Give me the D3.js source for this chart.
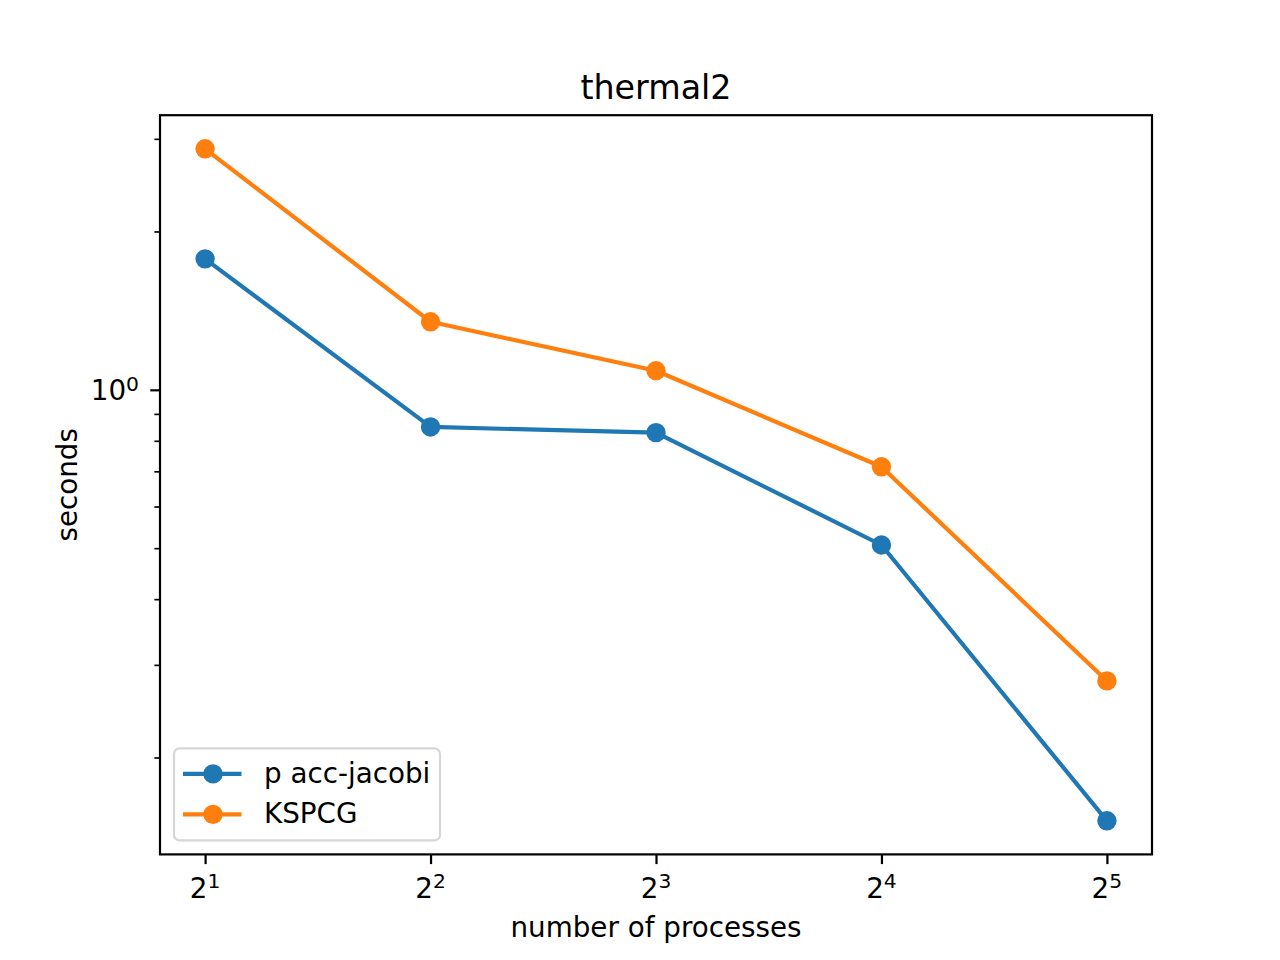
<!DOCTYPE html>
<html>
<head>
<meta charset="utf-8">
<script src="https://cdn.jsdelivr.net/npm/d3@7"></script>
<style>
  body { margin: 0; background: #fff; }
  text { font-family: "DejaVu Sans", sans-serif; fill: #000; }
</style>
</head>
<body>
<div id="chart"></div>
<script>
// values
const processes = [2, 4, 8, 16, 32];
const accJacobi = [1.774, 0.850, 0.829, 0.507, 0.1516];
const kspcg = [2.872, 1.347, 1.087, 0.714, 0.2797];
const seriesNames = ["p acc-jacobi", "KSPCG"];
const seriesColors = ["#1f77b4", "#ff7f0e"];
const xTickExp = [1, 2, 3, 4, 5];
const yMajor = [1];
const yMinor = [0.2, 0.3, 0.4, 0.5, 0.6, 0.7, 0.8, 0.9, 2, 3];

const W = 1280, H = 960;
var margin = {top: 115.2, right: 128, bottom: 105.6, left: 160};
const width = W - margin.left - margin.right;
const height = H - margin.top - margin.bottom;
const fs = 27.78; // 10pt at 200 dpi
const markR = 9.7;

var svg = d3.select("#chart").append("svg")
    .attr("width", W)
    .attr("height", H);
var g = svg.append("g")
    .attr("transform", "translate(" + margin.left + "," + margin.top + ")");

// log scales with matplotlib style 5% margins (in log space)
const lx = processes.map(d => Math.log2(d));
const xPad = (d3.max(lx) - d3.min(lx)) * 0.05;
var x = d3.scaleLog().base(2)
    .domain([Math.pow(2, d3.min(lx) - xPad), Math.pow(2, d3.max(lx) + xPad)])
    .range([0, width]);

const ly = accJacobi.concat(kspcg).map(d => Math.log10(d));
const yPad = (d3.max(ly) - d3.min(ly)) * 0.05;
var y = d3.scaleLog()
    .domain([Math.pow(10, d3.min(ly) - yPad), Math.pow(10, d3.max(ly) + yPad)])
    .range([height, 0]);

// x axis
var xAxis = g.append("g")
    .attr("transform", `translate(0, ${height})`)
    .call(d3.axisBottom(x).tickValues(xTickExp.map(e => Math.pow(2, e)))
      .tickSize(9.7).tickFormat(""));
xAxis.select(".domain").remove();
xAxis.selectAll("line").attr("stroke-width", 2.2);
xTickExp.forEach(function(e) {
  var t = g.append("text")
      .attr("x", x(Math.pow(2, e)))
      .attr("y", height + 43.5)
      .attr("text-anchor", "middle")
      .style("font-size", fs + "px");
  t.append("tspan").text("2");
  t.append("tspan").attr("dy", -9.5).style("font-size", (fs * 0.73) + "px").text(e);
});

// y axis
var yAxis = g.append("g")
    .call(d3.axisLeft(y).tickValues(yMajor).tickSize(9.7).tickFormat(""));
yAxis.select(".domain").remove();
yAxis.selectAll("line").attr("stroke-width", 2.2);
var yMin = g.append("g")
    .call(d3.axisLeft(y).tickValues(yMinor).tickSize(5.6).tickFormat(""));
yMin.select(".domain").remove();
yMin.selectAll("line").attr("stroke-width", 1.67);
yMajor.forEach(function(v) {
  var t = g.append("text")
      .attr("x", -21)
      .attr("y", y(v) + 10.5)
      .attr("text-anchor", "end")
      .style("font-size", fs + "px");
  t.append("tspan").text("10");
  t.append("tspan").attr("dy", -9.5).style("font-size", (fs * 0.73) + "px").text("0");
});

// lines + markers
const allSeries = [accJacobi, kspcg];
var line = d3.line()
    .x(function(d, i) { return x(processes[i]); })
    .y(function(d) { return y(d); });

allSeries.forEach(function(vals, k) {
  g.append("path")
      .datum(vals)
      .attr("fill", "none")
      .attr("stroke", seriesColors[k])
      .attr("stroke-width", 4.17)
      .attr("stroke-linejoin", "round")
      .attr("stroke-linecap", "square")
      .attr("d", line);
  g.selectAll(".dot" + k)
      .data(vals)
      .enter().append("circle")
      .attr("cx", function(d, i) { return x(processes[i]); })
      .attr("cy", function(d) { return y(d); })
      .attr("r", markR)
      .attr("fill", seriesColors[k]);
});

// frame
g.append("rect")
    .attr("width", width)
    .attr("height", height)
    .attr("fill", "none")
    .attr("stroke", "#000")
    .attr("stroke-width", 2.2);

// legend
var lg = g.append("g").attr("transform", "translate(14, " + (height - 14 - 92) + ")");
lg.append("rect")
    .attr("width", 266)
    .attr("height", 92)
    .attr("rx", 5.5)
    .attr("fill", "#fff")
    .attr("fill-opacity", 0.8)
    .attr("stroke", "#d6d6d6")
    .attr("stroke-width", 2.2);
seriesNames.forEach(function(name, k) {
  var cy = 25.5 + k * 40.5;
  lg.append("line")
      .attr("x1", 9).attr("x2", 67.5)
      .attr("y1", cy).attr("y2", cy)
      .attr("stroke", seriesColors[k])
      .attr("stroke-width", 4.17);
  lg.append("circle")
      .attr("cx", 39).attr("cy", cy).attr("r", markR)
      .attr("fill", seriesColors[k]);
  lg.append("text")
      .attr("x", 90)
      .attr("y", cy + 9)
      .style("font-size", fs + "px")
      .text(name);
});

// title and labels
svg.append("text")
    .attr("x", margin.left + width / 2)
    .attr("y", 99)
    .attr("text-anchor", "middle")
    .style("font-size", (fs * 1.2) + "px")
    .text("thermal2");
svg.append("text")
    .attr("x", margin.left + width / 2)
    .attr("y", 937)
    .attr("text-anchor", "middle")
    .style("font-size", fs + "px")
    .text("number of processes");
svg.append("text")
    .attr("transform", "translate(77," + (margin.top + height / 2) + ") rotate(-90)")
    .attr("text-anchor", "middle")
    .style("font-size", fs + "px")
    .text("seconds");
</script>
</body>
</html>
